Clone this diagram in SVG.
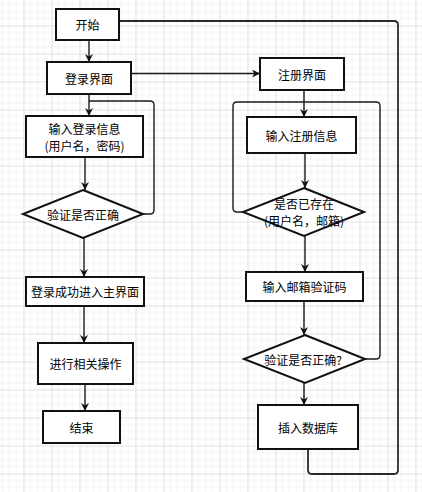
<svg xmlns="http://www.w3.org/2000/svg" width="422" height="492" viewBox="0 0 422 492">
<defs>
<pattern id="grid" patternUnits="userSpaceOnUse" x="23.5" y="25.5" width="28" height="28">
<path d="M7 0V28M14 0V28M21 0V28M0 7H28M0 14H28M0 21H28" stroke="#f2f2f2" stroke-width="1" fill="none"/>
<path d="M0.5 0V28M0 0.5H28" stroke="#e0e0e0" stroke-width="1" fill="none"/>
</pattern>
<marker id="arr" viewBox="0 0 10 10" refX="10" refY="5" markerUnits="userSpaceOnUse" markerWidth="8" markerHeight="8" orient="auto">
<path d="M0 0L10 5L0 10L3 5Z" fill="#111"/>
</marker>
<style>
.box{fill:#fff;stroke:#111;stroke-width:2}
.edge{fill:none;stroke:#1a1a1a;stroke-width:1.4}
.loop{fill:none;stroke:#2a2a2a;stroke-width:1.8}
.t{font-family:"Noto Sans CJK SC","Noto Sans",sans-serif;font-size:12px;fill:#000;text-anchor:middle;dominant-baseline:central}
</style>
</defs>
<rect width="422" height="492" fill="#fff"/>
<rect width="422" height="492" fill="url(#grid)"/>

<g id="connectors">
<path class="edge" d="M89 40V62" marker-end="url(#arr)"/>
<path class="edge" d="M131 73.5H260" marker-end="url(#arr)"/>
<path class="edge" d="M89 94V116" marker-end="url(#arr)"/>
<path class="edge" d="M143 214H150Q154 214 154 210V105Q154 101 150 101H89"/>
<path class="edge" d="M85 157V190" marker-end="url(#arr)"/>
<path class="edge" d="M84 238V277" marker-end="url(#arr)"/>
<path class="edge" d="M84 306V343" marker-end="url(#arr)"/>
<path class="edge" d="M85 384V411" marker-end="url(#arr)"/>
<path class="edge" d="M304 90V117" marker-end="url(#arr)"/>
<path class="edge" d="M243 212H237Q233 212 233 208V106Q233 102 237 102H304"/>
<path class="edge" d="M365 359H376Q380 359 380 355V106Q380 102 376 102H304"/>
<path class="edge" d="M305 153V188" marker-end="url(#arr)"/>
<path class="edge" d="M305 236V272" marker-end="url(#arr)"/>
<path class="edge" d="M304 301V335" marker-end="url(#arr)"/>
<path class="edge" d="M304 383V405" marker-end="url(#arr)"/>
<path class="loop" d="M308 449V470Q308 474 312 474H394Q398 474 398 470V25Q398 21 394 21H119"/>
</g>

<g id="start"><rect class="box" x="56" y="9" width="63" height="31"/><text class="t" x="87.5" y="24.5">开始</text></g>
<g id="login"><rect class="box" x="47" y="62" width="84" height="32"/><text class="t" x="89" y="78">登录界面</text></g>
<g id="register"><rect class="box" x="260" y="58" width="84" height="32"/><text class="t" x="302" y="74">注册界面</text></g>
<g id="inputLogin"><rect class="box" x="26" y="116" width="117" height="41"/><text class="t" x="84.5" y="128.5">输入登录信息</text><text class="t" x="84.5" y="145.5">(用户名，密码)</text></g>
<g id="checkLogin"><polygon class="box" points="83,190 143,214 83,238 23,214"/><text class="t" x="83" y="214">验证是否正确</text></g>
<g id="loginOk"><rect class="box" x="26" y="277" width="118" height="29"/><text class="t" x="85" y="291.5">登录成功进入主界面</text></g>
<g id="operate"><rect class="box" x="38" y="343" width="95" height="41"/><text class="t" x="85.5" y="363.5">进行相关操作</text></g>
<g id="end"><rect class="box" x="43" y="411" width="77" height="32"/><text class="t" x="81.5" y="427">结束</text></g>
<g id="inputReg"><rect class="box" x="247" y="117" width="109" height="36"/><text class="t" x="301.5" y="135">输入注册信息</text></g>
<g id="exists"><polygon class="box" points="304,188 364,212 304,236 243,212"/><text class="t" x="304" y="203">是否已存在</text><text class="t" x="304" y="220">(用户名，邮箱)</text></g>
<g id="inputCode"><rect class="box" x="246" y="272" width="117" height="29"/><text class="t" x="304.5" y="286.5">输入邮箱验证码</text></g>
<g id="checkCode"><polygon class="box" points="305,335 365,359 305,383 244,359"/><text class="t" x="303" y="359">验证是否正确?</text></g>
<g id="insertDb"><rect class="box" x="258" y="405" width="100" height="44"/><text class="t" x="308" y="427">插入数据库</text></g>
</svg>
